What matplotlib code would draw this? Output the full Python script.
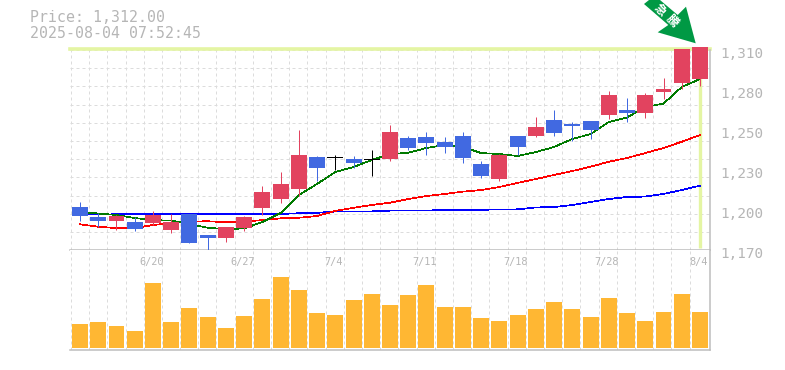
import numpy as np
import matplotlib
matplotlib.use('Agg')
from matplotlib import pyplot as plt
from matplotlib.patches import Polygon

opens = [1201.7, 1194.8, 1192.1, 1191.4, 1190.7, 1185.9, 1196.9, 1182.2, 1180.3, 1187.2, 1201.0, 1207.2,
         1214.1, 1236.2, 1236.2, 1234.8, 1234.8, 1234.8, 1249.3, 1250.0, 1246.5, 1250.6, 1231.3, 1221.0,
         1250.6, 1250.6, 1261.7, 1258.9, 1261.0, 1265.1, 1268.6, 1266.5, 1281.0, 1287.2, 1289.9]
closes = [1195.7, 1192.1, 1195.5, 1186.8, 1196.2, 1191.4, 1176.9, 1180.3, 1187.9, 1194.8, 1212.0, 1217.6,
          1237.6, 1228.6, 1235.5, 1232.0, 1234.1, 1253.4, 1242.4, 1245.8, 1243.1, 1235.5, 1223.1, 1237.6,
          1243.1, 1256.9, 1252.7, 1257.5, 1254.8, 1278.9, 1266.5, 1278.9, 1283.0, 1310.6, 1312.0]
highs = [1205.2, 1197.6, 1196.2, 1194.8, 1199.0, 1196.9, 1196.9, 1182.4, 1187.9, 1195.5, 1216.2, 1225.8,
         1254.8, 1236.9, 1237.6, 1236.9, 1241.0, 1258.2, 1250.6, 1253.4, 1250.0, 1253.4, 1233.4, 1238.2,
         1250.6, 1263.7, 1268.6, 1260.3, 1261.0, 1281.7, 1276.8, 1280.3, 1290.6, 1310.6, 1312.0]
lows = [1192.3, 1188.1, 1185.9, 1185.4, 1189.3, 1184.0, 1176.9, 1171.4, 1177.6, 1185.2, 1196.2, 1204.5,
        1209.3, 1219.6, 1227.2, 1228.6, 1223.1, 1233.4, 1241.0, 1237.6, 1238.9, 1232.0, 1221.7, 1219.6,
        1237.6, 1250.0, 1250.6, 1247.2, 1248.6, 1262.4, 1260.3, 1263.1, 1276.2, 1283.0, 1285.1]

ma_short = [1198.3, 1197.2, 1196.2, 1194.1, 1192.7, 1192.3, 1190.0, 1187.4, 1186.5, 1186.9, 1191.4, 1197.6,
            1210.0, 1217.6, 1225.8, 1229.3, 1234.1, 1238.2, 1239.1, 1242.4, 1244.4, 1243.1, 1238.9, 1238.2,
            1236.9, 1239.6, 1243.1, 1248.6, 1252.0, 1260.3, 1263.4, 1270.6, 1273.0, 1284.4, 1289.9]
ma_mid = [1189.8, 1188.1, 1187.2, 1187.2, 1189.3, 1190.5, 1191.6, 1191.9, 1191.2, 1191.6, 1192.7, 1193.9,
          1194.3, 1195.5, 1199.0, 1201.2, 1203.1, 1204.7, 1207.2, 1209.3, 1210.7, 1212.3, 1213.4, 1215.5,
          1218.3, 1221.0, 1223.8, 1226.5, 1229.5, 1232.9, 1235.5, 1238.9, 1242.4, 1246.7, 1251.3]
ma_long = [1196.4, 1196.5, 1196.7, 1196.7, 1196.7, 1196.7, 1196.9, 1196.9, 1196.9, 1196.9, 1196.9, 1196.9,
           1197.4, 1197.7, 1198.6, 1198.7, 1198.7, 1199.2, 1199.2, 1199.2, 1199.8, 1199.8, 1199.8, 1200.0,
           1200.1, 1201.4, 1201.7, 1203.1, 1205.2, 1207.2, 1208.6, 1208.9, 1210.7, 1213.4, 1216.4]

volume = [24, 26, 22, 17, 65, 26, 40, 31, 20, 32, 49, 71, 58, 35, 33, 48, 54, 43, 53, 63, 41, 41, 30, 27,
          33, 39, 46, 39, 31, 50, 35, 27, 36, 54, 36]

price_ticks = [1307.2, 1279.6, 1252.0, 1224.4, 1196.9, 1169.3]
price_labels = ['1,310', '1,280', '1,250', '1,230', '1,200', '1,170']
date_index = [4, 9, 14, 19, 24, 29, 34]
date_labels = ['6/20', '6/27', '7/4', '7/11', '7/18', '7/28', '8/4']
grid_prices = [1309.9, 1297.4, 1284.8, 1272.3, 1259.8, 1247.2, 1234.7, 1222.2, 1209.6, 1197.1, 1184.6]

RED = '#e2435f'
BLUE = '#4169e1'
ORANGE = '#ffb733'
LIME = '#e4f5a3'
AXIS = '#bdbdbd'
GRID = '#dcdcdc'
TEXT = '#b6b6b6'
PX = 0.72

W, H = 785, 370
fig = plt.figure(figsize=(W / 100, H / 100), dpi=100)
ax = fig.add_axes([70 / W, (H - 250) / H, 640 / W, 203 / H])
vol = fig.add_axes([70 / W, (H - 350) / H, 640 / W, 100 / H])

x = np.arange(len(opens))
grid_x = x - 0.5 - x * 0.002

for a in (ax, vol):
    a.set_xlim(-0.55, 34.55)
    a.set_xticks(grid_x)
    a.tick_params(length=0, labelbottom=False, labelleft=False)
    a.grid(axis='x', color=GRID, lw=PX, ls=(0, (3, 3)))
    a.set_axisbelow(True)
    for side in ('top', 'left'):
        a.spines[side].set_visible(False)
    for side in ('right', 'bottom'):
        a.spines[side].set_color(AXIS)
        a.spines[side].set_linewidth(1.1)

# price panel
ax.set_ylim(1172.07, 1312.0)
ax.set_yticks(grid_prices)
ax.grid(axis='y', color=GRID, lw=PX, ls=(0, (3, 3)))
ax.spines['right'].set_bounds(1172.07, 1309.9)

ax.axhline(1310.6, color=LIME, lw=2.6, clip_on=False, zorder=1.5)
ax.plot([34, 34], [1173.5, 1310], color=LIME, lw=2.4, solid_capstyle='butt', zorder=1.5)

ax.plot(x, ma_long, color='#0000ff', lw=0.5, antialiased=False, zorder=2)
ax.plot(x, ma_mid, color='#ff0000', lw=0.5, antialiased=False, zorder=2.1)
ax.plot(x, ma_short, color='#007a00', lw=0.5, antialiased=False, zorder=2.2)

colors = []
for o, c in zip(opens, closes):
    if abs(o - c) < 1:
        colors.append('black')
    elif c > o:
        colors.append(RED)
    else:
        colors.append(BLUE)

ax.vlines(x, lows, highs, colors=colors, lw=PX, snap=True, zorder=3)
ax.bar(x, np.abs(np.array(closes) - np.array(opens)), bottom=np.minimum(opens, closes), width=0.877,
       color=colors, antialiased=False, zorder=3.1, clip_on=False)

trans = ax.get_yaxis_transform()
for p, lab in zip(price_ticks, price_labels):
    ax.text(1.0155, p, lab, transform=trans, color=TEXT, fontsize=10.4, family='DejaVu Sans Mono',
            ha='left', va='center', clip_on=False)

# volume panel
vol.set_ylim(-2, 98)
vol.set_yticks([])
vol.bar(x, volume, width=0.877, color=ORANGE, antialiased=False, zorder=3)
for i, lab in zip(date_index, date_labels):
    vol.text(i - 0.1, 86, lab, color=TEXT, fontsize=7.4, family='DejaVu Sans Mono', ha='center', va='center')

# header text and the arrow sit in figure pixels
top = fig.add_axes([0, 0, 1, 1], facecolor='none')
top.set_xlim(0, W)
top.set_ylim(H, 0)
top.axis('off')
top.text(30, 18, 'Price: 1,312.00', color=TEXT, fontsize=10.7, family='DejaVu Sans Mono', va='center')
top.text(30, 33, '2025-08-04 07:52:45', color=TEXT, fontsize=10.7, family='DejaVu Sans Mono', va='center')
top.add_patch(Polygon([(644, 4), (649, 0), (660, 0), (677.7, 15), (686, 6.7), (695.7, 43.3), (657.7, 32.3),
                       (668.3, 25)], closed=True, fc='#009944', ec='none', clip_on=False))
top.text(660, 10, '急', color='white', fontsize=8.5, family=['Noto Sans CJK JP', 'DejaVu Sans'], weight='bold',
         rotation=-45, ha='center', va='center')
top.text(672, 21, '騰', color='white', fontsize=8.5, family=['Noto Sans CJK JP', 'DejaVu Sans'], weight='bold',
         rotation=-45, ha='center', va='center')

plt.savefig('out.png', dpi=100)
